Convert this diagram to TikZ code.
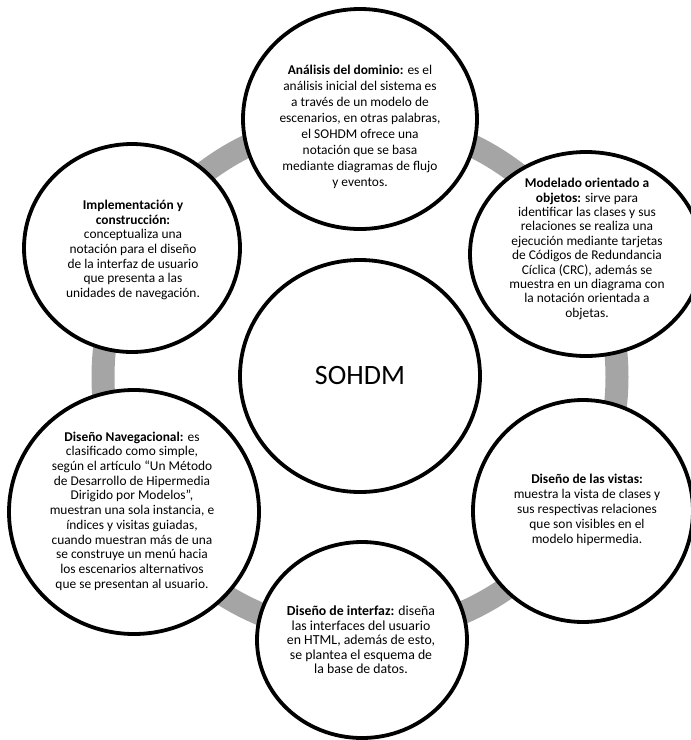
\documentclass[tikz,border=0pt]{standalone}
\usepackage{fontspec}
\setmainfont{Carlito}
\usetikzlibrary{shapes.geometric}
\definecolor{anillo}{HTML}{A5A5A5}

\begin{document}
\begin{tikzpicture}[line cap=round,line join=round,x=1pt,y=-1pt,
    fase/.style={draw=black,line width=3.8pt,fill=white,ellipse,inner sep=0pt},
    texto/.style={align=center,inner sep=0pt,font=\fontsize{13.4}{14.7}\selectfont}]
    \useasboundingbox (0,0) rectangle (691,740);
    % anillo gris detras de las fases
    \draw[color=anillo,line width=23pt] (360,377) circle (257pt);
    \node[fase,minimum width=240pt,minimum height=232pt,font=\fontsize{28}{32}\selectfont] (sohdm) at (360,376) {SOHDM};
    % fases del metodo
    \node[fase,minimum width=234pt,minimum height=220pt] (analisis) at (360,119) {};
    \node[fase,minimum width=232pt,minimum height=204pt] (modelado) at (586,254) {};
    \node[fase,minimum width=216pt,minimum height=208pt] (implementacion) at (132,248) {};
    \node[fase,minimum width=250pt,minimum height=244pt] (navegacional) at (134,512) {};
    \node[fase,minimum width=220pt,minimum height=222pt] (vistas) at (583,511) {};
    \node[fase,minimum width=210pt,minimum height=196pt] (interfaz) at (362,640) {};
    % textos
    \node[texto,font=\fontsize{13.4}{16}\selectfont] (analisis-t) at (360,127) {\textbf{Análisis del dominio:} es el\\análisis inicial del sistema es\\a través de un modelo de\\escenarios, en otras palabras,\\el SOHDM ofrece una\\notación que se basa\\mediante diagramas de flujo\\y eventos.};
    \node[texto,font=\fontsize{13.4}{14.4}\selectfont] (modelado-t) at (587,249) {\textbf{Modelado orientado a}\\\textbf{objetos:} sirve para\\identificar las clases y sus\\relaciones se realiza una\\ejecución mediante tarjetas\\de Códigos de Redundancia\\Cíclica (CRC), además se\\muestra en un diagrama con\\la notación orientada a\\objetas.};
    \node[texto,font=\fontsize{13.4}{14.6}\selectfont] (implementacion-t) at (133,250) {\textbf{Implementación y}\\\textbf{construcción:}\\conceptualiza una\\notación para el diseño\\de la interfaz de usuario\\que presenta a las\\unidades de navegación.};
    \node[texto] (navegacional-t) at (132,511) {\textbf{Diseño Navegacional:} es\\clasificado como simple,\\según el artículo “Un Método\\de Desarrollo de Hipermedia\\Dirigido por Modelos”,\\muestran una sola instancia, e\\índices y visitas guiadas,\\cuando muestran más de una\\se construye un menú hacia\\los escenarios alternativos\\que se presentan al usuario.};
    \node[texto,font=\fontsize{13.4}{15}\selectfont] (vistas-t) at (587,510) {\textbf{Diseño de las vistas:}\\muestra la vista de clases y\\sus respectivas relaciones\\que son visibles en el\\modelo hipermedia.};
    \node[texto,font=\fontsize{13.8}{14.6}\selectfont] (interfaz-t) at (361,640) {\textbf{Diseño de interfaz:} diseña\\las interfaces del usuario\\en HTML, además de esto,\\se plantea el esquema de\\la base de datos.};
\end{tikzpicture}
\end{document}
